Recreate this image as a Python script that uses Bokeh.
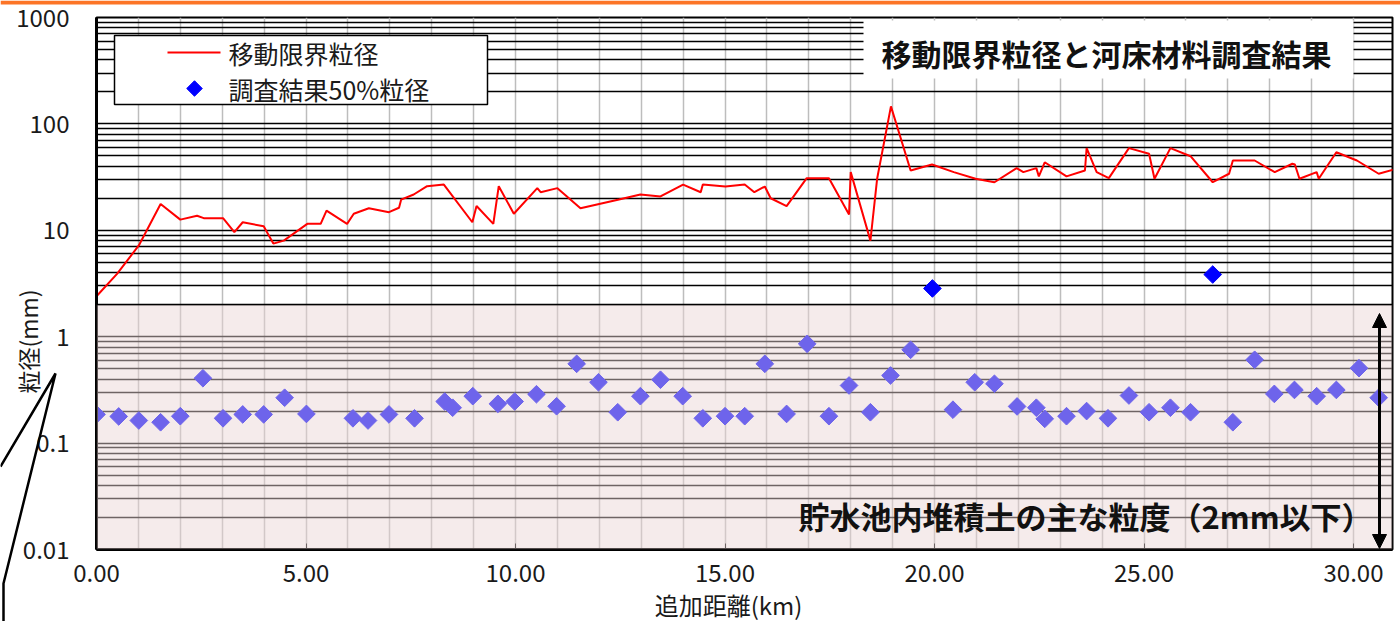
import numpy as np
from bokeh.plotting import figure
from bokeh.models import (ColumnDataSource, FixedTicker, CustomJSTickFormatter, NumeralTickFormatter,
                          BoxAnnotation, Label, Arrow, NormalHead, Range1d)
from bokeh.core.properties import value
from bokeh.embed import file_html
from bokeh.resources import INLINE

# ---------------- data ----------------
# 移動限界粒径 (km, mm)
line_km = [0.0, 0.49, 1.01, 1.53, 2.0, 2.4, 2.56, 3.02, 3.29, 3.49, 3.99, 4.22, 4.47, 5.03, 5.35,
           5.49, 5.98, 6.14, 6.50, 6.98, 7.22, 7.27, 7.57, 7.89, 8.29, 8.97, 9.07, 9.47, 9.60, 9.96,
           10.52, 10.6, 11.0, 11.55, 12.47, 12.98, 13.46, 14.0, 14.42, 14.47, 15.01, 15.47, 15.70,
           15.95, 16.09, 16.47, 16.95, 17.48, 17.96, 18.0, 18.47, 18.63, 18.96, 19.43, 19.94, 20.46,
           20.98, 21.43, 21.96, 22.12, 22.43, 22.49, 22.63, 23.15, 23.59, 23.63, 23.87, 24.16, 24.64,
           25.12, 25.25, 25.63, 26.11, 26.64, 27.03, 27.12, 27.64, 28.12, 28.54, 28.6, 28.71, 29.12,
           29.17, 29.59, 30.08, 30.60, 30.95]
line_mm = [2.4, 3.9, 7.2, 17.7, 12.6, 13.7, 13.0, 13.0, 9.6, 11.9, 10.9, 7.5, 8.0, 11.5, 11.5,
           15.3, 11.5, 14.3, 16.1, 14.8, 16.3, 19.4, 21.7, 26.0, 26.9, 11.9, 16.9, 11.5, 26.0, 14.3,
           24.9, 22.8, 24.9, 16.1, 19.5, 21.7, 20.8, 26.9, 22.8, 26.9, 25.8, 26.9, 22.8,
           25.8, 20.0, 16.9, 30.9, 30.9, 14.1, 35.2, 8.0, 30.5, 146.0, 36.5, 41.5, 35.2,
           30.5, 28.3, 38.4, 35.2, 38.4, 32.1, 43.6, 32.1, 36.5, 59.2, 35.2, 30.9, 59.2,
           52.4, 30.5, 59.2, 49.7, 28.3, 34.0, 45.3, 45.3, 35.2, 42.2, 41.5, 30.5, 35.2,
           30.5, 54.2, 45.3, 34.0, 37.1]

# 調査結果50%粒径 (km, mm)
pt_km = [0.0, 0.53, 1.01, 1.53, 2.0, 2.54, 3.02, 3.49, 3.99, 4.49, 5.01, 6.12, 6.48, 6.98, 7.59,
         8.31, 8.50, 8.98, 9.58, 9.98, 10.5, 10.98, 11.46, 11.98, 12.44, 12.98, 13.46, 13.99, 14.47,
         15.0, 15.47, 15.95, 16.47, 16.96, 17.48, 17.96, 18.47, 18.95, 19.43, 19.95, 20.44, 20.96,
         21.43, 21.97, 22.43, 22.63, 23.15, 23.63, 24.14, 24.64, 25.12, 25.63, 26.11, 26.64, 27.12,
         27.64, 28.11, 28.59, 29.12, 29.59, 30.13, 30.60]
pt_mm = [0.186, 0.178, 0.163, 0.157, 0.179, 0.407, 0.171, 0.186, 0.186, 0.267, 0.188, 0.171, 0.163,
         0.186, 0.171, 0.246, 0.215, 0.276, 0.234, 0.246, 0.288, 0.222, 0.556, 0.373, 0.195, 0.276,
         0.394, 0.276, 0.171, 0.179, 0.179, 0.556, 0.188, 0.857, 0.179, 0.348, 0.195, 0.432, 0.753,
         2.84, 0.206, 0.373, 0.361, 0.221, 0.215, 0.169, 0.179, 0.20, 0.171, 0.28, 0.195, 0.215,
         0.195, 3.84, 0.157, 0.607, 0.29, 0.316, 0.276, 0.316, 0.506, 0.267]

x_ticks = [0, 5, 10, 15, 20, 25, 30]
y_ticks = [0.01, 0.1, 1, 10, 100, 1000]
band_top = 2.0   # 貯水池内堆積土の主な粒度 (2mm以下)

series_names = ["移動限界粒径", "調査結果50%粒径"]
title_text = "移動限界粒径と河床材料調査結果"
band_text = "貯水池内堆積土の主な粒度（2mm以下）"
x_title = "追加距離(km)"
y_title = "粒径(mm)"

# ---------------- layout ----------------
W, H = 1400, 621
FL, FR, FT, FB = 96, 1392, 17, 549
FONT = "Noto Sans CJK JP"
RED, BLUE = "#ff0000", "#0000ff"


def sx(X):
    return X - FL


def sy(Y):
    return FB - Y


p = figure(width=W, height=H, x_range=Range1d(0, 30.93), y_range=Range1d(0.01, 1000),
           y_axis_type="log", output_backend="svg", toolbar_location=None,
           min_border_left=FL, min_border_right=W - FR, min_border_top=FT, min_border_bottom=H - FB)
p.background_fill_color = "white"
p.border_fill_color = "white"
p.outline_line_color = "black"
p.outline_line_width = 2

# axes
p.xaxis.ticker = FixedTicker(ticks=x_ticks, minor_ticks=[])
p.xaxis.formatter = NumeralTickFormatter(format="0.00")
p.yaxis.ticker = FixedTicker(ticks=y_ticks, minor_ticks=[])
p.yaxis.formatter = CustomJSTickFormatter(code="return tick.toString();")
for ax in (p.xaxis, p.yaxis):
    ax.axis_line_color = "black"
    ax.axis_line_width = 3
    ax.major_label_text_font = FONT
    ax.major_label_text_font_size = "24px"
    ax.major_label_text_color = "#1a1a1a"
    ax.minor_tick_line_color = None
p.xaxis.major_tick_in = 6
p.xaxis.major_tick_out = 0
p.xaxis.major_tick_line_color = "black"
p.xaxis.major_label_standoff = 14
p.yaxis.major_tick_line_color = None
p.yaxis.major_label_standoff = 21

# grids
grid_km = list(range(0, 31))
grid_mm = sorted(set([m * d for d in (0.01, 0.1, 1, 10, 100) for m in range(1, 10)] + [1000]))
p.xgrid.ticker = FixedTicker(ticks=grid_km)
p.xgrid.grid_line_color = "#bdbdbd"
p.xgrid.grid_line_width = 1.5
p.ygrid.ticker = FixedTicker(ticks=grid_mm)
p.ygrid.grid_line_color = "black"
p.ygrid.grid_line_width = 1.3

# series
src_line = ColumnDataSource(dict(x=line_km, y=line_mm))
src_pt = ColumnDataSource(dict(x=pt_km, y=pt_mm))
p.line("x", "y", source=src_line, line_color=RED, line_width=2)
p.scatter("x", "y", source=src_pt, marker="square", angle=np.pi / 4, size=12.5,
          fill_color=BLUE, line_color=BLUE)

# pink translucent band (<= 2mm)
p.add_layout(BoxAnnotation(bottom=0.01, top=band_top, fill_color=(234, 213, 213), fill_alpha=0.47,
                           line_color="black", line_width=1.3, line_alpha=1))

# title box
p.add_layout(BoxAnnotation(left=sx(863), right=sx(1353), top=sy(20), bottom=sy(78),
                           left_units="screen", right_units="screen", top_units="screen",
                           bottom_units="screen", fill_color="white", fill_alpha=1, line_color=None))
p.add_layout(Label(x=sx(1106), y=sy(52), x_units="screen", y_units="screen", text=title_text,
                   text_font=FONT, text_font_size="30px", text_font_style="bold",
                   text_align="center", text_baseline="middle", text_color="#111111"))

# band text
p.add_layout(Label(x=sx(1085), y=sy(515), x_units="screen", y_units="screen", text=band_text,
                   text_font=FONT, text_font_size="31px", text_font_style="bold",
                   text_align="center", text_baseline="middle", text_color="#111111"))

# double arrow
p.add_layout(Arrow(x_start=sx(1379), y_start=sy(313), x_end=sx(1379), y_end=sy(548),
                   start_units="screen", end_units="screen", line_color="black", line_width=3,
                   start=NormalHead(size=14, fill_color="black", line_color="black"),
                   end=NormalHead(size=14, fill_color="black", line_color="black")))

# ---------------- overlay (pixel space) for legend, axis titles, callout, top rule ----------------
ov = figure(width=W, height=H, x_range=Range1d(0, W), y_range=Range1d(H, 0),
            output_backend="svg", toolbar_location=None,
            x_axis_location=None, y_axis_location=None,
            min_border_left=0, min_border_right=0, min_border_top=0, min_border_bottom=0)
ov.grid.visible = False
ov.outline_line_color = None
ov.background_fill_alpha = 0
ov.border_fill_alpha = 0
ov.margin = (-H, 0, 0, 0)

# orange top rule
ov.quad(left=[0], right=[W], top=[0], bottom=[4], fill_color="#fc7426", line_color=None)

# callout pointer
ov.line([0, 55, 3, 3], [466, 373, 583, 621], line_color="black", line_width=2.5)

# legend
ov.quad(left=[114], right=[487], top=[35], bottom=[104], fill_color="white",
        line_color="black", line_width=1.5)
ov.line([167, 220], [52, 52], line_color=RED, line_width=2)
ov.scatter([194], [88], marker="square", angle=np.pi / 4, size=11, fill_color=BLUE, line_color=BLUE)
ov.text([228, 228], [52, 88], text=series_names, text_font=value(FONT), text_font_size="25px",
        text_align="left", text_baseline="middle", text_color="#1a1a1a")

# axis titles
ov.text([728], [604], text=[x_title], text_font=value(FONT), text_font_size="24px",
        text_align="center", text_baseline="middle", text_color="#1a1a1a")
ov.text([27], [341], text=[y_title], angle=np.pi / 2, text_font=value(FONT), text_font_size="23px",
        text_align="center", text_baseline="middle", text_color="#1a1a1a")

open("out.html", "w").write(file_html([p, ov], INLINE))
